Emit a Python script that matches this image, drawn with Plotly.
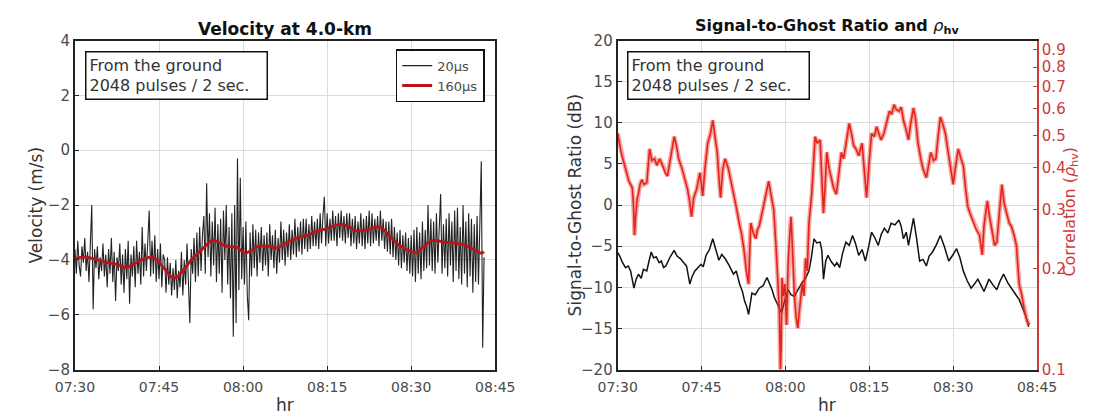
import numpy as np
import pandas as pd
import plotly.graph_objects as go

BASE = pd.Timestamp("2016-01-01 07:30")

# ---------------- Left panel: velocity ----------------
vel20_min = np.arange(293) * 0.25  # sample times, minutes after 07:30
vel20 = [
    -3.6, -4.5, -3.3, -4.2, -4.6, -3.5, -4.1, -3.2, -4.4, -3.7, -4.8, -3.4,
    -2.0, -5.8, -3.6, -4.3, -3.5, -4.7, -3.9, -4.4, -3.4, -4.6, -3.8, -5.0,
    -3.6, -4.5, -3.2, -4.8, -3.7, -5.5, -3.9, -4.4, -3.4, -4.9, -3.8, -5.2,
    -3.6, -4.7, -3.3, -5.6, -3.8, -4.6, -3.5, -5.0, -3.3, -4.5, -3.7, -4.9,
    -2.8, -4.6, -3.4, -4.4, -3.5, -2.2, -4.6, -3.3, -4.5, -3.1, -4.8, -3.6,
    -4.7, -3.4, -5.0, -3.8, -4.0, -5.2, -3.9, -4.9, -4.1, -5.3, -4.3, -5.1,
    -4.0, -5.4, -4.4, -5.0, -3.7, -5.3, -4.0, -4.9, -3.4, -5.0, -6.3, -3.6,
    -4.5, -3.2, -4.8, -3.0, -4.6, -2.8, -4.4, -3.1, -2.4, -4.5, -1.2, -3.9,
    -2.3, -4.6, -2.6, -4.2, -2.1, -4.8, -2.7, -4.5, -2.5, -5.2, -2.2, -4.0,
    -2.0, -4.9, -2.8, -5.4, -2.3, -6.8, -2.0, -6.3, -0.3, -5.1, -1.0, -4.7,
    -2.8, -4.9, -2.6, -5.3, -6.2, -3.0, -4.6, -2.7, -4.3, -2.9, -4.6, -3.0,
    -4.1, -2.8, -4.4, -3.1, -4.2, -3.0, -4.6, -2.7, -4.0, -3.1, -4.3, -2.9,
    -4.5, -3.2, -4.1, -2.6, -4.0, -2.9, -4.2, -3.0, -3.9, -2.7, -4.0, -2.9,
    -3.8, -2.5, -3.9, -2.8, -3.7, -2.6, -3.8, -2.5, -3.6, -2.5, -3.7, -2.7,
    -3.6, -2.4, -3.5, -2.6, -3.5, -2.5, -3.6, -2.3, -3.4, -2.4, -1.7, -3.5,
    -2.3, -3.4, -2.5, -3.3, -2.2, -3.3, -2.4, -3.5, -2.3, -3.2, -2.2, -3.3,
    -2.4, -3.4, -2.3, -3.2, -2.3, -3.5, -2.5, -3.4, -2.4, -3.6, -2.6, -3.4,
    -2.3, -3.5, -2.5, -3.6, -2.4, -3.4, -2.2, -3.5, -2.3, -3.4, -2.5, -3.3,
    -2.4, -3.5, -2.2, -3.3, -2.5, -3.6, -2.6, -3.7, -2.6, -3.8, -2.5, -3.9,
    -2.8, -4.0, -3.0, -4.2, -2.9, -4.3, -3.1, -4.1, -3.0, -4.4, -3.2, -4.5,
    -3.1, -4.6, -2.9, -4.8, -2.8, -4.5, -3.0, -4.7, -2.6, -4.4, -2.9, -4.3,
    -2.0, -4.2, -2.5, -4.4, -2.6, -4.5, -2.3, -4.1, -2.4, -1.6, -4.5, -2.7,
    -4.3, -2.5, -4.6, -2.3, -4.2, -2.6, -4.8, -2.2, -4.4, -2.1, -4.7, -2.8,
    -4.9, -2.0, -4.5, -2.6, -5.0, -2.3, -4.6, -2.5, -5.2, -2.7, -4.8, -2.4,
    -4.9, -2.6, -0.4, -7.2, -3.9,
]
vel160_min = [0, 2, 4, 6, 8, 9, 10.5, 12, 13.8, 15.5, 17.2, 18, 19, 21, 23, 24.6,
              25.5, 27, 29, 30.3, 31.5, 32.7, 34.5, 36, 38, 39.6, 41.5, 43, 45,
              47.5, 49, 50.4, 52, 54.4, 56, 57.5, 58.5, 60.8, 62, 63.7, 66, 69.4,
              71, 72.5, 73]
vel160 = [-3.95, -3.9, -4.0, -4.1, -4.2, -4.28, -4.15, -3.98, -3.9, -4.2, -4.62,
          -4.65, -4.45, -3.95, -3.55, -3.28, -3.35, -3.5, -3.55, -3.75, -3.65,
          -3.5, -3.5, -3.56, -3.35, -3.2, -3.1, -2.97, -2.85, -2.7, -2.8, -2.95,
          -2.9, -2.8, -3.1, -3.4, -3.55, -3.73, -3.55, -3.3, -3.35, -3.45, -3.6,
          -3.75, -3.7]

# ---------------- Right panel: SGR and rho_hv ----------------
sgr_min = [0, 0.3, 0.8, 1.4, 1.9, 2.3, 2.9, 3.3, 3.7, 4.2, 4.6, 5.2, 5.6, 6.0, 6.4,
           6.9, 7.4, 7.8, 8.2, 8.6, 9.3, 10.1, 10.6, 11.2, 11.8, 12.3, 12.9, 13.3,
           13.8, 14.4, 14.9, 15.3, 15.8, 16.4, 17.0, 17.5, 18.1, 18.6, 19.2, 19.9,
           20.7, 21.2, 21.8, 22.3, 22.7, 23.1, 23.4, 24.0, 24.6, 25.3, 26.0, 26.7,
           27.1, 27.6, 28.0, 28.5, 28.9, 29.3, 29.9, 30.5, 31.0, 31.6, 32.3, 33.0,
           33.6, 34.2, 34.6, 35.1, 35.6, 36.2, 36.5, 36.8, 37.2, 37.6, 38.2, 38.8,
           39.2, 39.7, 40.2, 40.8, 41.4, 42.0, 42.5, 43.1, 43.7, 44.3, 44.9, 45.4,
           46.0, 46.6, 47.1, 47.7, 48.3, 48.9, 49.6, 50.3, 50.7, 51.1, 51.6, 52.0,
           52.5, 52.9, 53.4, 54.0, 54.6, 55.2, 55.7, 56.3, 57.0, 57.7, 58.4, 59.2,
           59.9, 60.6, 61.2, 61.8, 62.5, 63.2, 63.8, 64.4, 65.0, 65.5, 66.0, 66.4,
           67.1, 67.8, 68.4, 69.0, 69.8, 70.7, 71.2, 71.8, 72.4, 73.0, 73.5]
sgr_db = [-5.8, -6.1, -6.9, -7.6, -7.4, -8.0, -10.1, -9.0, -8.4, -8.9, -7.8, -8.0,
          -6.8, -5.7, -6.4, -6.3, -7.0, -6.8, -7.6, -7.4, -6.4, -5.5, -6.2, -6.5,
          -7.0, -7.4, -9.6, -8.7, -8.0, -7.6, -7.2, -7.5, -6.1, -5.4, -4.1, -5.3,
          -6.7, -6.0, -6.5, -7.3, -8.4, -8.0, -9.6, -10.5, -11.7, -12.4, -13.3,
          -10.7, -10.9, -10.1, -9.8, -8.8, -9.4, -10.3, -11.2, -11.9, -12.5, -13.1,
          -11.5, -10.3, -10.9, -11.1, -10.2, -9.4, -8.9, -8.0, -6.5, -4.1, -4.6,
          -4.5, -5.5, -9.0, -6.8, -6.1, -6.9, -7.4, -7.0, -7.6, -5.9, -4.5, -4.9,
          -3.7, -4.6, -6.1, -5.4, -6.8, -5.0, -3.3, -4.0, -4.9, -3.6, -2.8, -3.4,
          -2.2, -2.4, -1.8, -2.6, -4.1, -3.3, -4.9, -3.0, -1.6, -3.8, -6.8, -6.6,
          -7.4, -6.2, -5.7, -4.8, -3.7, -5.0, -6.8, -6.1, -5.3, -6.4, -8.0, -9.2,
          -10.1, -9.6, -9.0, -9.8, -10.5, -9.7, -9.0, -9.7, -10.3, -9.2, -8.4, -9.5,
          -10.5, -10.9, -11.5, -12.6, -13.5, -14.8]

rho_min = [0.0, 0.3, 0.6, 1.0, 1.4, 1.7, 2.0, 2.3, 2.6, 2.8, 3.0, 3.2, 3.5, 3.7, 4.0,
           4.3, 4.7, 5.2, 5.7, 6.1, 6.6, 7.0, 7.5, 8.0, 8.5, 8.9, 9.4, 10.1, 10.5,
           10.9, 11.5, 12.1, 12.5, 12.9, 13.2, 13.6, 14.1, 14.7, 15.2, 15.6, 16.1,
           16.6, 17.0, 17.4, 17.8, 18.1, 18.4, 18.8, 19.2, 19.8, 20.4, 20.9, 21.3,
           21.7, 22.1, 22.6, 23.0, 23.4, 23.6, 23.8, 24.2, 24.7, 25.0, 25.3, 25.8,
           26.4, 27.0, 27.4, 27.9, 28.3, 28.7, 28.9, 29.1, 29.25, 29.4, 29.6, 29.9,
           30.2, 30.5, 30.8, 31.0, 31.3, 31.6, 31.9, 32.2, 32.5, 33.0, 33.3, 33.6,
           33.9, 34.2, 34.7, 35.0, 35.3, 35.7, 36.2, 36.5, 36.8, 37.1, 37.4, 37.8,
           38.2, 38.6, 39.1, 39.6, 40.0, 40.4, 40.8, 41.1, 41.4, 41.8, 42.2, 42.6,
           43.1, 43.7, 44.1, 44.5, 45.0, 45.4, 45.9, 46.3, 46.7, 47.1, 47.6, 48.0,
           48.6, 49.0, 49.4, 49.8, 50.3, 50.7, 51.1, 51.6, 52.0, 52.4, 52.9, 53.3,
           53.7, 54.2, 54.6, 55.2, 55.6, 56.0, 56.5, 56.9, 57.3, 57.7, 58.1, 58.6,
           59.1, 59.5, 60.0, 60.5, 60.9, 61.4, 61.8, 62.2, 62.6, 63.0, 63.5, 64.1,
           64.7, 65.0, 65.2, 65.5, 66.1, 66.5, 67.0, 67.4, 67.8, 68.2, 68.7, 69.1,
           69.5, 70.0, 70.4, 70.9, 71.3, 71.8, 72.3, 72.7, 73.2, 73.6]
rho_hv = [0.507, 0.474, 0.445, 0.421, 0.398, 0.378, 0.365, 0.357, 0.349, 0.314,
          0.252, 0.286, 0.326, 0.334, 0.357, 0.369, 0.357, 0.361, 0.456, 0.421,
          0.426, 0.407, 0.426, 0.407, 0.387, 0.378, 0.426, 0.496, 0.466, 0.426,
          0.398, 0.365, 0.345, 0.314, 0.286, 0.326, 0.345, 0.387, 0.330, 0.398,
          0.474, 0.507, 0.555, 0.496, 0.445, 0.374, 0.326, 0.398, 0.426, 0.398,
          0.357, 0.326, 0.300, 0.274, 0.257, 0.227, 0.197, 0.180, 0.240, 0.274,
          0.257, 0.246, 0.262, 0.268, 0.293, 0.326, 0.365, 0.334, 0.300, 0.235,
          0.180, 0.151, 0.100, 0.121, 0.188, 0.166, 0.180, 0.136, 0.215, 0.262,
          0.286, 0.220, 0.166, 0.144, 0.133, 0.151, 0.180, 0.166, 0.215, 0.197,
          0.274, 0.334, 0.407, 0.496, 0.474, 0.485, 0.374, 0.293, 0.357, 0.445,
          0.398, 0.374, 0.349, 0.334, 0.398, 0.445, 0.426, 0.466, 0.496, 0.543,
          0.507, 0.466, 0.456, 0.435, 0.474, 0.398, 0.326, 0.421, 0.507, 0.496,
          0.531, 0.507, 0.485, 0.507, 0.543, 0.591, 0.578, 0.618, 0.598, 0.591,
          0.608, 0.555, 0.519, 0.485, 0.543, 0.604, 0.555, 0.474, 0.426, 0.398,
          0.374, 0.412, 0.445, 0.421, 0.426, 0.496, 0.568, 0.543, 0.507, 0.445,
          0.398, 0.357, 0.412, 0.456, 0.426, 0.407, 0.349, 0.307, 0.293, 0.280,
          0.262, 0.252, 0.234, 0.220, 0.268, 0.319, 0.286, 0.257, 0.235, 0.240,
          0.293, 0.357, 0.314, 0.293, 0.274, 0.268, 0.252, 0.235, 0.180, 0.166,
          0.151, 0.140, 0.136]

x_tick_labels = ["07:30", "07:45", "08:00", "08:15", "08:30", "08:45"]
rho_ticks = [0.1, 0.2, 0.3, 0.4, 0.5, 0.6, 0.7, 0.8, 0.9]


def to_time(mins):
    return BASE + pd.to_timedelta(np.asarray(mins, dtype=float), unit="min")


W, H = 1113, 414
def px(x):
    return x / W
def py(y):
    return 1 - y / H

FONT = "DejaVu Sans"
RED = "#e4231b"
AXRED = "#cc3a3a"
GRID = "#dcdcdc"
TICKC = "#4a4a4a"

fig = go.Figure()

fig.add_trace(go.Scatter(x=to_time(vel20_min), y=vel20, mode="lines",
                         line=dict(color="rgba(10,10,10,0.9)", width=1.1),
                         name="20μs", xaxis="x", yaxis="y"))
fig.add_trace(go.Scatter(x=to_time(vel160_min), y=vel160, mode="lines",
                         line=dict(color="#b8141c", width=2.8, shape="spline"),
                         name="160μs", xaxis="x", yaxis="y"))

fig.add_trace(go.Scatter(x=to_time(sgr_min), y=sgr_db, mode="lines",
                         line=dict(color="#111111", width=1.5),
                         showlegend=False, xaxis="x2", yaxis="y2"))
fig.add_trace(go.Scatter(x=to_time(rho_min), y=rho_hv, mode="lines",
                         line=dict(color="rgba(235,60,50,0.45)", width=4.5),
                         showlegend=False, xaxis="x2", yaxis="y3"))
fig.add_trace(go.Scatter(x=to_time(rho_min), y=rho_hv, mode="lines",
                         line=dict(color=RED, width=1.6),
                         showlegend=False, xaxis="x2", yaxis="y3"))

xr = [BASE, BASE + pd.Timedelta(minutes=75)]
tickvals = [BASE + pd.Timedelta(minutes=15 * i) for i in range(6)]

xcommon = dict(type="date", range=xr, tickvals=tickvals, ticktext=x_tick_labels,
               showgrid=True, gridcolor=GRID, gridwidth=1,
               showline=True, linecolor="#222", linewidth=2, mirror=True,
               ticks="inside", ticklen=4, tickcolor="#222", ticklabelstandoff=4,
               tickfont=dict(family=FONT, size=14, color=TICKC), zeroline=False)

ydom = [py(377), py(33)]

fig.update_layout(
    width=W, height=H,
    margin=dict(l=0, r=0, t=0, b=0),
    paper_bgcolor="white", plot_bgcolor="white",
    font=dict(family=FONT, size=14, color=TICKC),
    xaxis=dict(domain=[px(57), px(493)], anchor="y", **xcommon),
    yaxis=dict(domain=ydom, anchor="x", range=[-8, 4], dtick=2,
               showgrid=True, gridcolor=GRID, zeroline=False,
               showline=True, linecolor="#222", linewidth=2, mirror=True,
               ticks="inside", ticklen=4, tickcolor="#222",
               tickfont=dict(family=FONT, size=15, color=TICKC)),
    xaxis2=dict(domain=[px(620), px(1055)], anchor="y2", **xcommon),
    yaxis2=dict(domain=ydom, anchor="x2", range=[-20, 20], dtick=5,
                showgrid=True, gridcolor=GRID, zeroline=False,
                showline=True, linecolor="#222", linewidth=2, mirror=False,
                ticks="inside", ticklen=4, tickcolor="#222",
                tickfont=dict(family=FONT, size=15, color=TICKC)),
    yaxis3=dict(overlaying="y2", anchor="x2", side="right", type="log",
                range=[-1, np.log10(0.96)], tickvals=rho_ticks,
                ticktext=[str(v) for v in rho_ticks], showgrid=False,
                showline=True, linecolor=AXRED, linewidth=1.5,
                ticks="inside", ticklen=4, tickcolor=AXRED, zeroline=False,
                tickfont=dict(family=FONT, size=15, color=AXRED)),
    legend=dict(x=px(482), xanchor="right", y=py(42), yanchor="top",
                bgcolor="white", bordercolor="#111", borderwidth=1.5,
                font=dict(family=FONT, size=13, color=TICKC),
                tracegroupgap=0, itemwidth=30),
    showlegend=True,
)

box_text = "From the ground<br>2048 pulses / 2 sec."
annos = [
    dict(x=px(275), y=py(21), text="<b>Velocity at 4.0-km</b>",
         font=dict(family=FONT, size=17, color="#111")),
    dict(x=px(837), y=py(18), text="<b>Signal-to-Ghost Ratio and </b><i>ρ</i><sub><b>hv</b></sub>",
         font=dict(family=FONT, size=16, color="#111")),
    dict(x=px(17), y=py(205), text="Velocity (m/s)", textangle=-90,
         font=dict(family=FONT, size=17, color="#333")),
    dict(x=px(576), y=py(205), text="Signal-to-Ghost Ratio (dB)", textangle=-90,
         font=dict(family=FONT, size=17, color="#333")),
    dict(x=px(1090), y=py(212), text="Correlation (<i>ρ</i><sub>hv</sub>)", textangle=-90,
         font=dict(family=FONT, size=16, color=AXRED)),
    dict(x=px(275), y=py(414), text="hr",
         font=dict(family=FONT, size=17, color="#333")),
    dict(x=px(837), y=py(414), text="hr",
         font=dict(family=FONT, size=17, color="#333")),
    dict(x=px(67), y=py(44), xanchor="left", yanchor="top", text=box_text,
         align="left", bgcolor="white", bordercolor="#111", borderwidth=1.5,
         borderpad=3, width=174, font=dict(family=FONT, size=16, color="#333")),
    dict(x=px(630), y=py(44), xanchor="left", yanchor="top", text=box_text,
         align="left", bgcolor="white", bordercolor="#111", borderwidth=1.5,
         borderpad=3, width=174, font=dict(family=FONT, size=16, color="#333")),
]
for a in annos:
    a.setdefault("xref", "paper")
    a.setdefault("yref", "paper")
    a.setdefault("showarrow", False)
    a.setdefault("xanchor", "center")
    a.setdefault("yanchor", "middle")
fig.update_layout(annotations=annos)

fig.write_html("out.html")
